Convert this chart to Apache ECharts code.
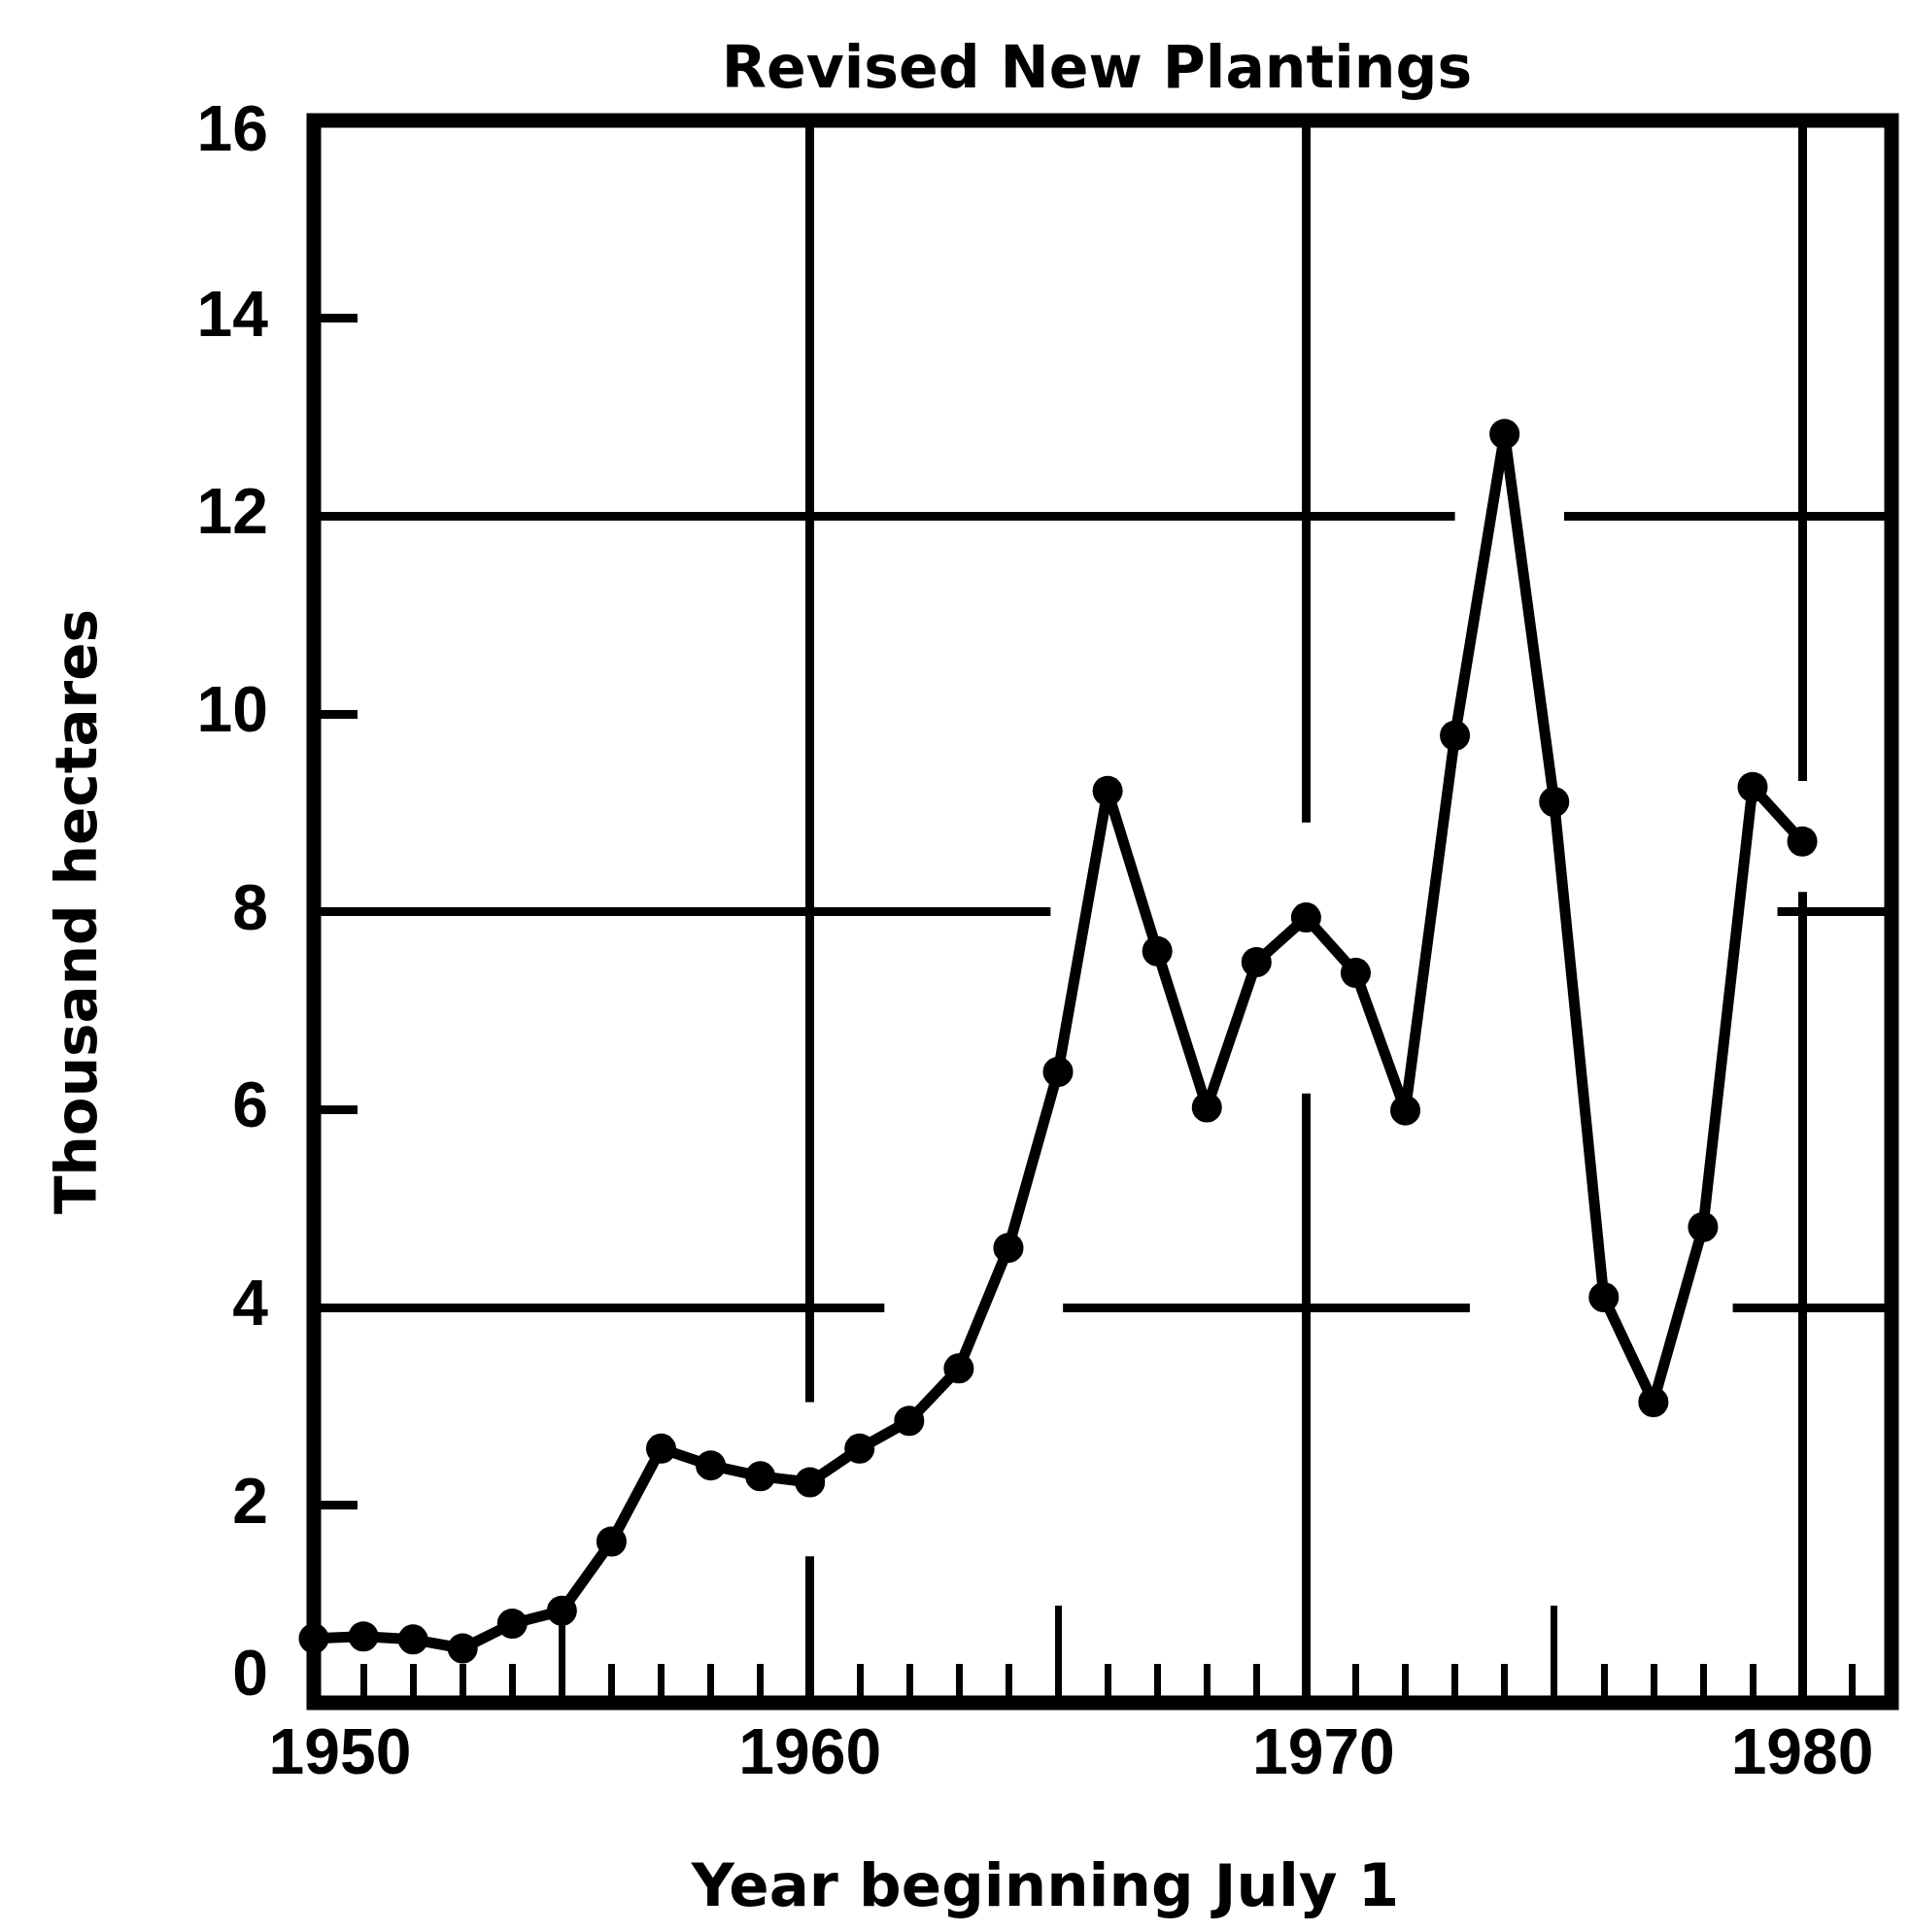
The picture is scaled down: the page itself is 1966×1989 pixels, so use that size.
<!DOCTYPE html>
<html lang="en">

<head>
    <meta charset="UTF-8">
    <title>Revised New Plantings</title>
    <script src="https://cdn.jsdelivr.net/npm/echarts@6/dist/echarts.min.js"></script>
    <style>
        * {
            margin: 0px;
            padding: 0px;
        }

        body {
            background: #fff;
        }

        #chart {
            width: 1966px;
            height: 1989px;
        }
    </style>
</head>

<body>
    <div id="chart"></div>

    <script type="text/javascript">
        // data
        var years = [1950, 1951, 1952, 1953, 1954, 1955, 1956, 1957, 1958, 1959,
            1960, 1961, 1962, 1963, 1964, 1965, 1966, 1967, 1968, 1969,
            1970, 1971, 1972, 1973, 1974, 1975, 1976, 1977, 1978, 1979, 1980];
        var plantings = [0.65, 0.67, 0.64, 0.55, 0.80, 0.93, 1.63, 2.57, 2.40, 2.29,
            2.23, 2.57, 2.85, 3.38, 4.60, 6.38, 9.22, 7.60, 6.02, 7.49,
            7.94, 7.38, 5.99, 9.78, 12.83, 9.11, 4.10, 3.04, 4.81, 9.26, 8.71];
        var yTicks = [0, 2, 4, 6, 8, 10, 12, 14, 16];
        var xLabels = [1950, 1960, 1970, 1980];

        // grid lines are broken where the curve crosses them
        // [y, xFrom, xTo]
        var hGrid = [
            [12, 1950, 1973.0], [12, 1975.2, 1981.8],
            [8, 1950, 1964.85], [8, 1979.5, 1981.8],
            [4, 1950, 1961.5], [4, 1965.1, 1973.3], [4, 1978.6, 1981.8]
        ];
        // [x, yFrom, yTo]
        var vGrid = [
            [1960, 3.04, 16], [1960, 0, 1.48],
            [1970, 8.9, 16], [1970, 0, 6.16],
            [1980, 9.32, 16], [1980, 0, 8.2]
        ];

        var xMin = 1950, xMax = 1981.8;

        var points = years.map(function (y, i) {
            return [y, plantings[i]];
        });

        var gridSegs = [];
        hGrid.forEach(function (g) {
            gridSegs.push([{ coord: [g[1], g[0]] }, { coord: [g[2], g[0]] }]);
        });
        vGrid.forEach(function (g) {
            gridSegs.push([{ coord: [g[0], g[1]] }, { coord: [g[0], g[2]] }]);
        });

        var numFont = 'Liberation Sans';
        var wordFont = 'DejaVu Sans';

        var myChart = echarts.init(document.getElementById('chart'), null, { renderer: 'canvas' });

        var option = {
            backgroundColor: '#fff',
            animation: false,
            title: {
                text: 'Revised New Plantings',
                left: 1124,
                top: 39,
                textAlign: 'center',
                textStyle: {
                    fontFamily: wordFont,
                    fontWeight: 'bold',
                    fontSize: 60,
                    color: '#000'
                }
            },
            grid: {
                left: 323,
                right: 19,
                top: 124,
                bottom: 236,
                show: true,
                borderColor: '#000',
                borderWidth: 15,
                backgroundColor: 'transparent'
            },
            xAxis: [{
                type: 'value',
                min: xMin,
                max: xMax,
                interval: 5,
                position: 'bottom',
                axisLine: { show: false },
                splitLine: { show: false },
                axisTick: {
                    show: true,
                    inside: true,
                    length: 100,
                    lineStyle: { color: '#000', width: 7 }
                },
                axisLabel: {
                    showMaxLabel: false,
                    margin: 22,
                    fontFamily: numFont,
                    fontWeight: 'bold',
                    fontSize: 66,
                    color: '#000',
                    formatter: function (v) {
                        if (xLabels.indexOf(v) < 0) return '';
                        if (v === 1950) return '{l|' + v + '}';
                        if (v === 1970) return '{m|' + v + '}';
                        return '{n|' + v + '}';
                    },
                    rich: {
                        l: { fontFamily: numFont, fontWeight: 'bold', fontSize: 66, color: '#000', padding: [0, 0, 0, 54] },
                        m: { fontFamily: numFont, fontWeight: 'bold', fontSize: 66, color: '#000', padding: [0, 0, 0, 36] },
                        n: { fontFamily: numFont, fontWeight: 'bold', fontSize: 66, color: '#000' }
                    }
                },
                name: 'Year beginning July 1',
                nameLocation: 'middle',
                nameGap: 163,
                nameTextStyle: {
                    fontFamily: wordFont,
                    fontWeight: 'bold',
                    fontSize: 61,
                    color: '#000',
                    padding: [0, 118, 0, 0]
                }
            }, {
                // a small tick for every year
                type: 'value',
                min: xMin,
                max: xMax,
                interval: 1,
                position: 'bottom',
                axisLine: { show: false },
                splitLine: { show: false },
                axisLabel: { show: false },
                axisTick: {
                    show: true,
                    inside: true,
                    length: 40,
                    lineStyle: { color: '#000', width: 7 }
                }
            }],
            yAxis: {
                type: 'value',
                min: 0,
                max: 16,
                interval: 2,
                axisLine: { show: false },
                splitLine: { show: false },
                axisTick: {
                    show: true,
                    inside: true,
                    length: 45,
                    lineStyle: { color: '#000', width: 9 }
                },
                axisLabel: {
                    margin: 47,
                    fontFamily: numFont,
                    fontWeight: 'bold',
                    fontSize: 66,
                    color: '#000',
                    formatter: function (v) {
                        if (yTicks.indexOf(v) < 0) return '';
                        if (v === 16) return '{t|' + v + '}';
                        if (v === 0) return '{b|' + v + '}';
                        return '{n|' + v + '}';
                    },
                    rich: {
                        t: { fontFamily: numFont, fontWeight: 'bold', fontSize: 66, color: '#000', padding: [26, 0, 0, 0] },
                        b: { fontFamily: numFont, fontWeight: 'bold', fontSize: 66, color: '#000', padding: [0, 0, 52, 0] },
                        n: { fontFamily: numFont, fontWeight: 'bold', fontSize: 66, color: '#000' }
                    }
                },
                name: 'Thousand hectares',
                nameLocation: 'middle',
                nameGap: 210,
                nameTextStyle: {
                    fontFamily: wordFont,
                    fontWeight: 'bold',
                    fontSize: 58,
                    color: '#000'
                }
            },
            series: [{
                // grid lines
                type: 'line',
                data: [],
                silent: true,
                markLine: {
                    silent: true,
                    symbol: ['none', 'none'],
                    label: { show: false },
                    lineStyle: { color: '#000', width: 9, type: 'solid' },
                    emphasis: { disabled: true },
                    data: gridSegs
                }
            }, {
                type: 'line',
                data: points,
                clip: false,
                symbol: 'circle',
                symbolSize: 31,
                showAllSymbol: true,
                itemStyle: { color: '#000' },
                lineStyle: { color: '#000', width: 11 },
                emphasis: { disabled: true },
                z: 5
            }]
        };

        myChart.setOption(option);
    </script>
</body>

</html>
